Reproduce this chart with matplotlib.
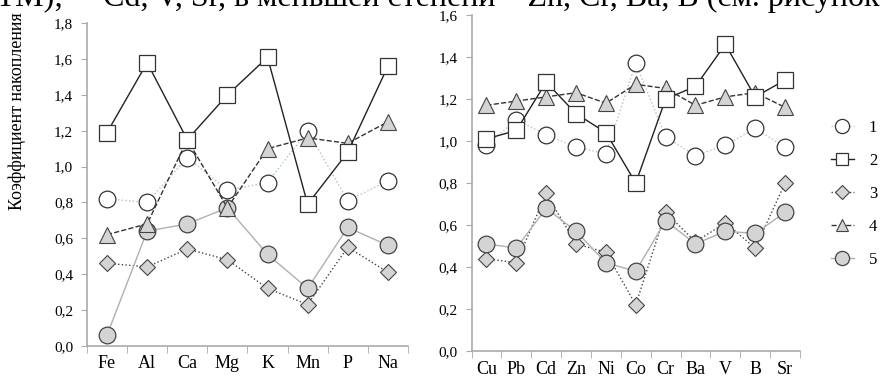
import matplotlib
matplotlib.use("Agg")
import matplotlib.pyplot as plt
from matplotlib.lines import Line2D

plt.rcParams['font.family'] = ['Liberation Serif', 'DejaVu Serif']

# macro elements (left panel)
macro = ['Fe', 'Al', 'Ca', 'Mg', 'K', 'Mn', 'P', 'Na']
macro_1 = [0.82, 0.80, 1.05, 0.87, 0.91, 1.20, 0.81, 0.92]
macro_2 = [1.19, 1.58, 1.15, 1.40, 1.61, 0.79, 1.08, 1.56]
macro_3 = [0.46, 0.44, 0.54, 0.48, 0.32, 0.23, 0.55, 0.41]
macro_4 = [0.62, 0.68, 1.15, 0.77, 1.10, 1.16, 1.13, 1.25]
macro_5 = [0.06, 0.64, 0.68, 0.77, 0.51, 0.32, 0.66, 0.56]

# trace elements (right panel)
trace = ['Cu', 'Pb', 'Cd', 'Zn', 'Ni', 'Co', 'Cr', 'Ba', 'V', 'B', 'Sr']
trace_1 = [0.98, 1.10, 1.03, 0.97, 0.94, 1.37, 1.02, 0.93, 0.98, 1.06, 0.97]
trace_2 = [1.01, 1.05, 1.28, 1.13, 1.04, 0.80, 1.20, 1.26, 1.46, 1.21, 1.29]
trace_3 = [0.44, 0.42, 0.75, 0.51, 0.47, 0.22, 0.66, 0.52, 0.61, 0.49, 0.80]
trace_4 = [1.17, 1.19, 1.21, 1.23, 1.18, 1.27, 1.25, 1.17, 1.21, 1.23, 1.16]
trace_5 = [0.51, 0.49, 0.68, 0.57, 0.42, 0.38, 0.62, 0.51, 0.57, 0.56, 0.66]

series_names = ['1', '2', '3', '4', '5']

styles = [
    dict(color='#a9c4da', ls=':', lw=1.0, marker='o', ms=12, mfc='white', mec='#333333', mew=0.9),
    dict(color='#222222', ls='-', lw=1.0, marker='s', ms=11, mfc='white', mec='#333333', mew=0.9),
    dict(color='#444444', ls=':', lw=1.0, marker='D', ms=8, mfc='#d4d4d4', mec='#444444', mew=0.8),
    dict(color='#333333', ls='--', lw=1.0, marker='^', ms=11, mfc='#d4d4d4', mec='#444444', mew=0.8),
    dict(color='#b0b0b0', ls='-', lw=1.0, marker='o', ms=12, mfc='#d4d4d4', mec='#444444', mew=0.9),
]
zorders = [3, 4, 2, 3, 2]


def style_axes(ax, cats, ymax):
    n = len(cats)
    ax.set_xlim(-0.5, n - 0.5)
    ax.set_ylim(0, ymax)
    ax.set_xticks(range(n))
    ax.set_xticklabels(cats, fontsize=13)
    ax.tick_params(axis='x', length=0, pad=7)
    # separator ticks between categories
    ax.set_xticks([i - 0.5 for i in range(n + 1)], minor=True)
    ax.tick_params(axis='x', which='minor', length=5, color='#aaaaaa', direction='out')
    yt = [round(0.2 * i, 1) for i in range(int(round(ymax / 0.2)) + 1)]
    ax.set_yticks(yt)
    ax.set_yticklabels([('%.1f' % v).replace('.', ',') for v in yt], fontsize=11)
    ax.tick_params(axis='y', length=4, color='#aaaaaa', pad=6)
    for s in ['top', 'right']:
        ax.spines[s].set_visible(False)
    for s in ['left', 'bottom']:
        ax.spines[s].set_color('#aaaaaa')
        ax.spines[s].set_linewidth(1.2)


fig = plt.figure(figsize=(8.83, 3.78), dpi=100)

ax1 = fig.add_axes([0.0985, 0.0854, 0.3635, 0.853])
ax2 = fig.add_axes([0.534, 0.0714, 0.372, 0.889])

for ys, st, z in zip([macro_1, macro_2, macro_3, macro_4, macro_5], styles, zorders):
    ax1.plot(range(len(macro)), ys, zorder=z, clip_on=False, **st)
for ys, st, z in zip([trace_1, trace_2, trace_3, trace_4, trace_5], styles, zorders):
    ax2.plot(range(len(trace)), ys, zorder=z, clip_on=False, **st)

style_axes(ax1, macro, 1.8)
style_axes(ax2, trace, 1.6)

fig.text(0.019, 0.705, 'Коэффициент накопления', rotation=90, ha='center', va='center', fontsize=13)

# legend
handles = []
for st in styles:
    h = dict(st)
    h['ms'] = h['ms'] * 0.85
    handles.append(Line2D([], [], **h))
fig.legend(handles, series_names, loc='upper left', bbox_to_anchor=(0.933, 0.70),
           frameon=False, fontsize=12, handlelength=1.4, handletextpad=0.9,
           labelspacing=1.02, borderaxespad=0)

# clipped line of body text above the figure
fig.text(-0.004, 1 - 6 / 378, 'ТМ);     Cd, V, Sr, в меньшей степени – Zn, Cr, Ba, B (см. рисунок',
         ha='left', va='baseline', fontsize=23)

fig.savefig('out.png', dpi=100)
